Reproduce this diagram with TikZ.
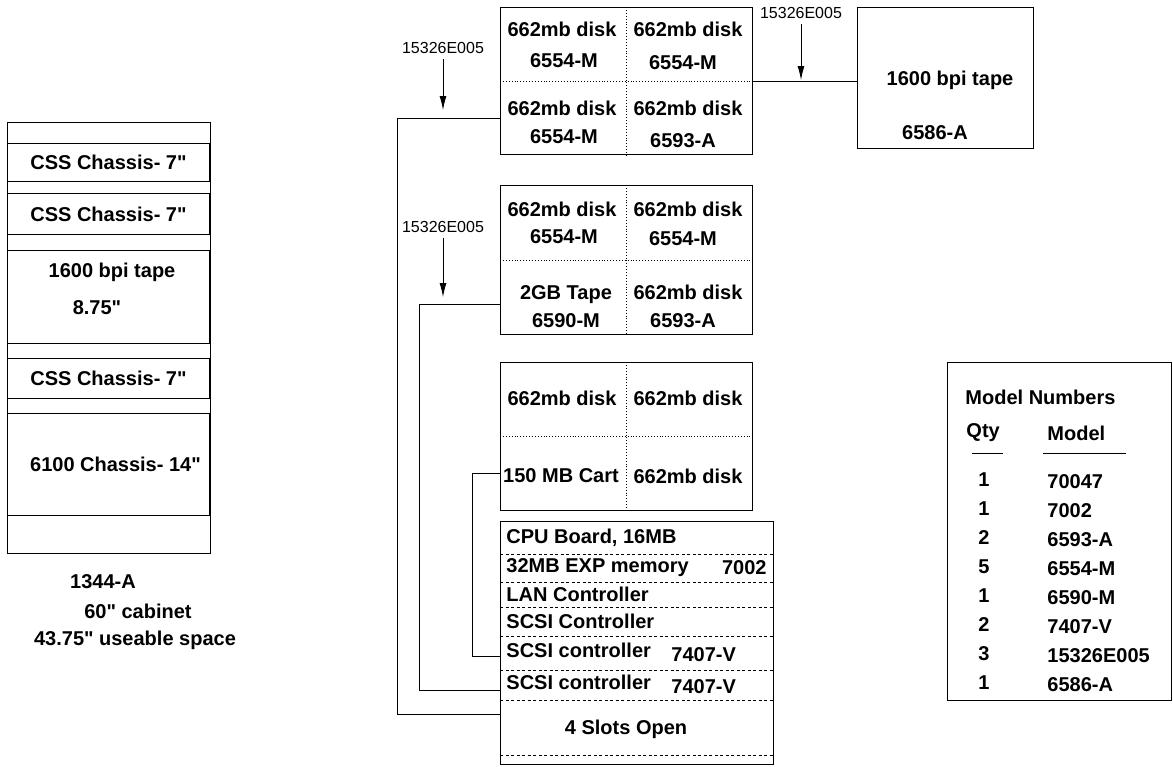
\documentclass[tikz,border=0pt]{standalone}
\usepackage{fontspec}
\setmainfont{Liberation Sans}
\usetikzlibrary{positioning,arrows.meta}
\newcommand{\inch}{\textquotedbl}
\tikzset{
  lbl/.style={font=\bfseries\fontsize{20}{22}\selectfont,inner sep=0pt},
  tag/.style={font=\fontsize{16}{18}\selectfont,inner sep=0pt},
  box/.style={draw,line width=1pt,anchor=north west,inner sep=0pt,font=\bfseries\fontsize{20}{22}\selectfont},
  slot/.style={dash pattern=on 3pt off 2.5pt,line width=0.9pt},
}

\begin{document}
\begin{tikzpicture}[x=1pt,y=-1pt,line width=0.9pt,>={Latex[length=14pt,width=7pt]}]
\useasboundingbox (0,0) rectangle (1173,766);
% cabinet 1344-A
\node[box,minimum width=203pt,minimum height=431pt] (cab) at (7,122) {};
\node[box,minimum width=202pt,minimum height=38pt] (css1) at (7,143) {CSS Chassis- 7\inch};
\node[box,minimum width=202pt,minimum height=41pt] (css2) at (7,193) {CSS Chassis- 7\inch};
\node[box,minimum width=202pt,minimum height=93pt] (tape1) at (7,250) {};
\node[lbl] (tape1a) at (112,272) {1600 bpi tape};
\node[lbl] (tape1b) at (97,308) {8.75\inch};
\node[box,minimum width=202pt,minimum height=40pt] (css3) at (7,358) {CSS Chassis- 7\inch};
\node[box,minimum width=202pt,minimum height=102pt] (ch6100) at (7,413) {\hspace*{14pt}6100 Chassis- 14\inch};
\node[lbl] (cabA) at (103,582) {1344-A};
\node[lbl] (cabB) at (138,611) {60\inch{} cabinet};
\node[lbl] (cabC) at (135,640) {43.75\inch{} useable space};

% disk units
\node[box,minimum width=252pt,minimum height=147pt] (dA) at (500,7) {};
\node[box,minimum width=252pt,minimum height=149pt] (dB) at (500,185) {};
\node[box,minimum width=252pt,minimum height=148pt] (dC) at (500,362) {};
\foreach \d in {dA,dB,dC} {\draw[dotted] (\d.north) -- (\d.south) (\d.west) -- (\d.east);}
\node[lbl] (dA1) at (562,29) {662mb disk};
\node[lbl] (dA2) at (688,29) {662mb disk};
\node[lbl] (dA3) at (564,61) {6554-M};
\node[lbl] (dA4) at (683,63) {6554-M};
\node[lbl] (dA5) at (562,108) {662mb disk};
\node[lbl] (dA6) at (688,108) {662mb disk};
\node[lbl] (dA7) at (564,137) {6554-M};
\node[lbl] (dA8) at (683,141) {6593-A};
\node[lbl] (dB1) at (562,209) {662mb disk};
\node[lbl] (dB2) at (688,209) {662mb disk};
\node[lbl] (dB3) at (564,237) {6554-M};
\node[lbl] (dB4) at (683,239) {6554-M};
\node[lbl] (dB5) at (566,295) {2GB Tape};
\node[lbl] (dB6) at (688,292) {662mb disk};
\node[lbl] (dB7) at (566,321) {6590-M};
\node[lbl] (dB8) at (683,321) {6593-A};
\node[lbl] (dC1) at (562,398) {662mb disk};
\node[lbl] (dC2) at (688,398) {662mb disk};
\node[lbl] (dC3) at (561,476) {150 MB Cart};
\node[lbl] (dC4) at (688,476) {662mb disk};

% 1600 bpi tape unit
\node[box,minimum width=176pt,minimum height=141pt] (tp) at (857,7) {};
\node[lbl] (tp1) at (950,80) {1600 bpi tape};
\node[lbl] (tp2) at (935,133) {6586-A};

% CPU chassis
\node[box,minimum width=273pt,minimum height=243pt] (cpu) at (500,521) {};
\foreach \yy in {554,582,607,636,670,700,755} {\draw[slot] (cpu.west |- 0,\yy) -- (cpu.east |- 0,\yy);}
\node[lbl,anchor=west] (cpu1) at (506,538) {CPU Board, 16MB};
\node[lbl,anchor=west] (cpu2) at (506,568) {32MB EXP memory};
\node[lbl,anchor=east] (cpu2m) at (767,568) {7002};
\node[lbl,anchor=west] (cpu3) at (506,594) {LAN Controller};
\node[lbl,anchor=west] (cpu4) at (506,621) {SCSI Controller};
\node[lbl,anchor=west] (cpu5) at (506,650) {SCSI controller};
\node[lbl,anchor=west] (cpu5m) at (671,655) {7407-V};
\node[lbl,anchor=west] (cpu6) at (506,682) {SCSI controller};
\node[lbl,anchor=west] (cpu6m) at (671,687) {7407-V};
\node[lbl] (cpu7) at (626,729) {4 Slots Open};

% SCSI cables
\draw (dA.west |- 0,118) -| (397,714) -- (cpu.west |- 0,714);
\draw (dB.west |- 0,304) -| (419,690) -- (cpu.west |- 0,690);
\draw (dC.west |- 0,473) -| (472,656) -- (cpu.west |- 0,656);
\draw (dA.east |- 0,81) -- (tp.west |- 0,81);

% terminators
\node[tag] (tA) at (443,48) {15326E005};
\node[tag] (tB) at (443,227) {15326E005};
\node[tag] (tC) at (801,13) {15326E005};
\draw[->] ([yshift=-5pt]tA.south) -- (tA.south |- 0,110);
\draw[->] ([yshift=-5pt]tB.south) -- (tB.south |- 0,297);
\draw[->] ([yshift=-5pt]tC.south) -- (tC.south |- 0,80);

% model numbers
\node[box,minimum width=224pt,minimum height=338pt] (leg) at (947,362) {};
\node[lbl,anchor=west] (legT) at (965,397) {Model Numbers};
\node[lbl,anchor=west] (legQ) at (966,433) {Qty};
\node[lbl,anchor=west] (legM) at (1047,433) {Model};
\draw (972,453) -- (1003,453) (1043,453) -- (1126,453);
\foreach \q/\m [count=\i] in {1/70047,1/7002,2/6593-A,5/6554-M,1/6590-M,2/7407-V,3/15326E005,1/6586-A} {
  \node[lbl] (q\i) at (984,{451+29*\i}) {\q};
  \node[lbl,anchor=west] (m\i) at (1047,{453+29*\i}) {\m};
}
\end{tikzpicture}
\end{document}
